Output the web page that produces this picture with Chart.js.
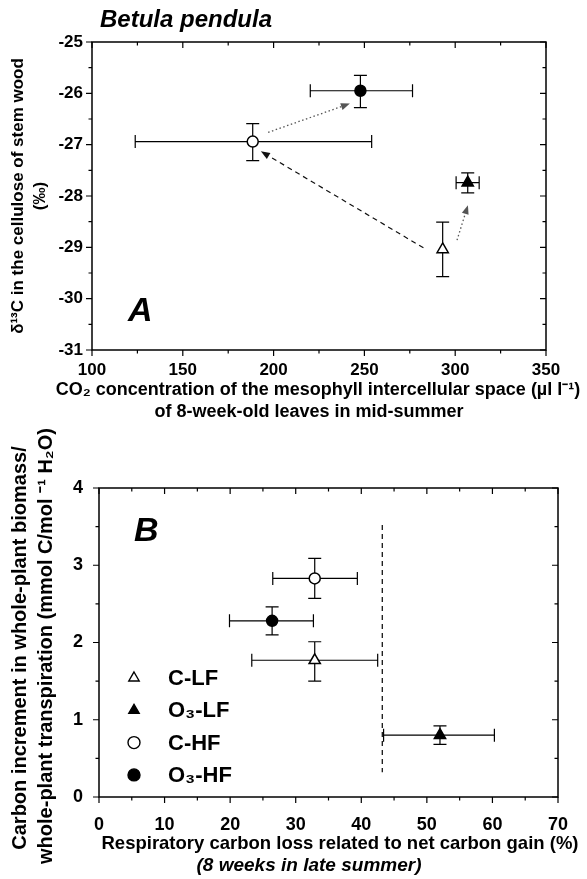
<!DOCTYPE html>
<html><head><meta charset="utf-8">
<script src="https://cdn.jsdelivr.net/npm/chart.js@4.4.1/dist/chart.umd.min.js"></script>
<style>
html,body{margin:0;padding:0;background:#fff;width:587px;height:879px;overflow:hidden;}
#chartA{position:absolute;left:0;top:0;z-index:1;}
#chartB{position:absolute;left:0;top:400px;z-index:2;}
</style></head><body>
<canvas id="chartA" width="587" height="440"></canvas>
<canvas id="chartB" width="587" height="479"></canvas>
<script>
// ---------------- DATA ----------------
const seriesLabels = ['C-LF', 'O₃-LF', 'C-HF', 'O₃-HF'];

// Panel A: Ci (µl l-1) vs δ13C (‰)
const ciA        = [293.1, 306.9, 188.5, 247.8];
const ciLowA     = [293.1, 300.5, 123.8, 220.2];
const ciHighA    = [293.1, 313.2, 254.0, 276.5];
const d13cA      = [-29.04, -27.74, -26.94, -25.95];
const d13cLowA   = [-29.57, -27.94, -27.31, -26.28];
const d13cHighA  = [-28.51, -27.55, -26.59, -25.65];
const arrowFromXA = [197, 282.5, 301];
const arrowFromYA = [-26.76, -29.01, -28.86];
const arrowToXA   = [242, 193, 307];
const arrowToYA   = [-26.20, -27.13, -28.18];
const xTickValuesA = [100, 150, 200, 250, 300, 350];
const yTickValuesA = [-31, -30, -29, -28, -27, -26, -25];

// Panel B: respiratory carbon loss (%) vs carbon increment / transpiration
const respLossB   = [32.9, 52.0, 32.9, 26.4];
const respLowB    = [23.3, 43.4, 26.5, 19.9];
const respHighB   = [42.5, 60.3, 39.4, 32.7];
const carbonB     = [1.77, 0.80, 2.83, 2.28];
const carbonLowB  = [1.50, 0.68, 2.57, 2.10];
const carbonHighB = [2.01, 0.92, 3.09, 2.46];
const thresholdXB = [43.2, 43.2];
const thresholdYB = [3.52, 0.32];
const xTickValuesB = [0, 10, 20, 30, 40, 50, 60, 70];
const yTickValuesB = [0, 1, 2, 3, 4];

// ---------------- STYLE ----------------
const FAM = "'Liberation Sans', Arial, Helvetica, sans-serif";
const MARKER_STYLE  = ['triangle', 'triangle', 'circle', 'circle'];
const MARKER_FILL   = ['#fff', '#000', '#fff', '#000'];
const MARKER_RADIUS = [6.5, 6.5, 5.5, 5.5];
const CAP = 6.5;

function seriesDatasets(xs, xl, xh, ys, yl, yh) {
  return seriesLabels.map((lab, i) => ({
    label: lab,
    data: [{x: xs[i], y: ys[i]}],
    errX: [xl[i], xh[i]],
    errY: [yl[i], yh[i]],
    pointStyle: MARKER_STYLE[i],
    pointRadius: MARKER_RADIUS[i],
    pointHoverRadius: MARKER_RADIUS[i],
    pointBackgroundColor: MARKER_FILL[i],
    pointBorderColor: '#000',
    pointBorderWidth: 1.5,
    showLine: false,
    isSeries: true
  }));
}

// ---------------- PLUGINS ----------------
const errorBars = {
  id: 'errorBars',
  beforeDatasetsDraw(chart) {
    const {ctx, scales: {x, y}} = chart;
    ctx.save();
    ctx.strokeStyle = '#000'; ctx.lineWidth = 1.2; ctx.setLineDash([]);
    chart.data.datasets.forEach(ds => {
      if (!ds.isSeries) return;
      const p = ds.data[0];
      const px = x.getPixelForValue(p.x), py = y.getPixelForValue(p.y);
      const x0 = x.getPixelForValue(ds.errX[0]), x1 = x.getPixelForValue(ds.errX[1]);
      const y0 = y.getPixelForValue(ds.errY[0]), y1 = y.getPixelForValue(ds.errY[1]);
      ctx.beginPath();
      if (Math.abs(x1 - x0) > 1) {
        ctx.moveTo(x0, py); ctx.lineTo(x1, py);
        ctx.moveTo(x0, py - CAP); ctx.lineTo(x0, py + CAP);
        ctx.moveTo(x1, py - CAP); ctx.lineTo(x1, py + CAP);
      }
      if (Math.abs(y1 - y0) > 1) {
        ctx.moveTo(px, y0); ctx.lineTo(px, y1);
        ctx.moveTo(px - CAP, y0); ctx.lineTo(px + CAP, y0);
        ctx.moveTo(px - CAP, y1); ctx.lineTo(px + CAP, y1);
      }
      ctx.stroke();
    });
    ctx.restore();
  }
};

const arrows = {
  id: 'arrows',
  afterDatasetsDraw(chart, args, opts) {
    if (!opts || !opts.list) return;
    const {ctx, scales: {x, y}} = chart;
    ctx.save();
    opts.list.forEach(a => {
      const x0 = x.getPixelForValue(a.x0), y0 = y.getPixelForValue(a.y0);
      const x1 = x.getPixelForValue(a.x1), y1 = y.getPixelForValue(a.y1);
      const ang = Math.atan2(y1 - y0, x1 - x0);
      const L = 9, W = 3.5;
      const bx = x1 - L * Math.cos(ang), by = y1 - L * Math.sin(ang);
      ctx.strokeStyle = a.color; ctx.fillStyle = a.color;
      ctx.lineWidth = a.width;
      ctx.setLineDash(a.dash);
      ctx.beginPath(); ctx.moveTo(x0, y0); ctx.lineTo(bx, by); ctx.stroke();
      ctx.setLineDash([]);
      ctx.beginPath();
      ctx.moveTo(x1, y1);
      ctx.lineTo(bx + W * Math.sin(ang), by - W * Math.cos(ang));
      ctx.lineTo(bx - W * Math.sin(ang), by + W * Math.cos(ang));
      ctx.closePath(); ctx.fill();
    });
    ctx.restore();
  }
};

const frameTicks = {
  id: 'frameTicks',
  afterDraw(chart) {
    const {ctx, chartArea: ca, scales: {x, y}} = chart;
    ctx.save();
    ctx.strokeStyle = '#000'; ctx.setLineDash([]);
    ctx.lineWidth = 1.5;
    ctx.strokeRect(ca.left, ca.top, ca.right - ca.left, ca.bottom - ca.top);
    ctx.lineWidth = 1.2;
    const withMinor = sc => {
      const v = sc.ticks.map(t => t.value), out = [];
      v.forEach((val, i) => { out.push([val, true]); if (i < v.length - 1) out.push([(val + v[i + 1]) / 2, false]); });
      return out;
    };
    ctx.beginPath();
    withMinor(x).forEach(([v, major]) => {
      const px = x.getPixelForValue(v), l = major ? 6 : 3.5;
      ctx.moveTo(px, ca.bottom); ctx.lineTo(px, ca.bottom + l);
      ctx.moveTo(px, ca.top); ctx.lineTo(px, ca.top + l);
    });
    withMinor(y).forEach(([v, major]) => {
      const py = y.getPixelForValue(v), l = major ? 6 : 3.5;
      ctx.moveTo(ca.left, py); ctx.lineTo(ca.left - l, py);
      ctx.moveTo(ca.right, py); ctx.lineTo(ca.right - l, py);
    });
    ctx.stroke();
    ctx.restore();
  }
};

const panelText = {
  id: 'panelText',
  afterDraw(chart, args, opts) {
    if (!opts || !opts.items) return;
    const ctx = chart.ctx;
    opts.items.forEach(t => {
      ctx.save();
      ctx.font = t.font; ctx.fillStyle = '#000';
      ctx.textAlign = t.align || 'left'; ctx.textBaseline = 'middle';
      ctx.translate(t.x, t.y);
      if (t.rotate) ctx.rotate(t.rotate);
      ctx.fillText(t.text, 0, 0);
      ctx.restore();
    });
  }
};

const seriesLegend = {
  id: 'seriesLegend',
  afterDraw(chart, args, opts) {
    if (!opts || !opts.show) return;
    const ctx = chart.ctx;
    ctx.save();
    let i = 0;
    chart.data.datasets.forEach(ds => {
      if (!ds.isSeries) return;
      const yy = opts.y0 + i * opts.dy;
      ctx.fillStyle = ds.pointBackgroundColor; ctx.strokeStyle = '#000'; ctx.lineWidth = 1.4;
      Chart.helpers.drawPoint(ctx, {pointStyle: ds.pointStyle, radius: opts.r, rotation: 0, borderWidth: 1.4}, opts.sx, yy);
      ctx.fillStyle = '#000';
      ctx.font = opts.font; ctx.textAlign = 'left'; ctx.textBaseline = 'middle';
      ctx.fillText(ds.label, opts.tx, yy + 1);
      i++;
    });
    ctx.restore();
  }
};

function tickOpts(values) {
  return (sc) => { sc.ticks = values.map(v => ({value: v})); };
}

function baseScale(min, max, values, fit, title, tickPad, tickSize) {
  return {
    type: 'linear', min, max,
    afterBuildTicks: tickOpts(values),
    afterFit: fit,
    grid: {display: false, drawTicks: false}, border: {display: false},
    ticks: {color: '#000', padding: tickPad, font: {family: FAM, size: tickSize, weight: 'bold'}},
    title
  };
}

// ---------------- CHART A ----------------
new Chart(document.getElementById('chartA'), {
  type: 'scatter',
  data: {datasets: seriesDatasets(ciA, ciLowA, ciHighA, d13cA, d13cLowA, d13cHighA)},
  options: {
    responsive: false, animation: false, events: [],
    layout: {padding: {top: 42, right: 41, bottom: 0, left: 0}},
    plugins: {
      legend: {display: false}, tooltip: {enabled: false},
      arrows: {list: arrowFromXA.map((_, i) => ({
        x0: arrowFromXA[i], y0: arrowFromYA[i], x1: arrowToXA[i], y1: arrowToYA[i],
        dash: i === 1 ? [5, 4] : [1.5, 2.5], color: i === 1 ? '#111' : '#555', width: i === 1 ? 1.2 : 1.3
      }))},
      panelText: {items: [
        {text: 'Betula pendula', x: 100, y: 20, font: `italic bold 24px ${FAM}`},
        {text: 'A', x: 128, y: 312, font: `italic bold 34px ${FAM}`},
        {text: 'CO₂ concentration of the mesophyll intercellular space (µl l⁻¹)', x: 318, y: 390, align: 'center', font: `bold 18px ${FAM}`},
        {text: 'of 8-week-old leaves in mid-summer', x: 309, y: 412, align: 'center', font: `bold 18px ${FAM}`}
      ]}
    },
    scales: {
      x: baseScale(100, 350, xTickValuesA, s => { s.height = 90; }, {display: false}, 10, 17),
      y: baseScale(-31, -25, yTickValuesA, s => { s.width = 92; }, {
        display: true, color: '#000',
        text: ['δ¹³C in the cellulose of stem wood', '(‰)'],
        font: {family: FAM, size: 17, weight: 'bold', lineHeight: '22px'},
        padding: {top: 7, bottom: 0}
      }, 9, 17)
    }
  },
  plugins: [errorBars, arrows, frameTicks, panelText]
});

// ---------------- CHART B ----------------
const dsB = seriesDatasets(respLossB, respLowB, respHighB, carbonB, carbonLowB, carbonHighB);
dsB.push({
  type: 'line', label: 'threshold',
  data: thresholdXB.map((v, i) => ({x: v, y: thresholdYB[i]})),
  borderColor: '#000', borderWidth: 1.2, borderDash: [5, 4], pointRadius: 0, showLine: true, fill: false
});
new Chart(document.getElementById('chartB'), {
  type: 'scatter',
  data: {datasets: dsB},
  options: {
    responsive: false, animation: false, events: [],
    layout: {padding: {top: 88, right: 29, bottom: 0, left: 0}},
    plugins: {
      legend: {display: false}, tooltip: {enabled: false},
      seriesLegend: {show: true, sx: 134, tx: 168, y0: 278, dy: 32.3, r: 6, font: `bold 22px ${FAM}`},
      panelText: {items: [
        {text: 'B', x: 134, y: 132, font: `italic bold 34px ${FAM}`},
        {text: 'Respiratory carbon loss related to net carbon gain (%)', x: 340, y: 444, align: 'center', font: `bold 18.5px ${FAM}`},
        {text: '(8 weeks in late summer)', x: 309, y: 466, align: 'center', font: `italic bold 19px ${FAM}`},
        {text: 'Carbon increment in whole-plant biomass/', x: 20, y: 248, align: 'center', rotate: -Math.PI / 2, font: `bold 20px ${FAM}`},
        {text: 'whole-plant transpiration (mmol C/mol ⁻¹ H₂O)', x: 46, y: 246, align: 'center', rotate: -Math.PI / 2, font: `bold 20px ${FAM}`}
      ]}
    },
    scales: {
      x: baseScale(0, 70, xTickValuesB, s => { s.height = 82; }, {display: false}, 17, 18),
      y: baseScale(0, 4, yTickValuesB, s => { s.width = 99; }, {display: false}, 16, 18)
    }
  },
  plugins: [errorBars, frameTicks, panelText, seriesLegend]
});
</script>
</body></html>
